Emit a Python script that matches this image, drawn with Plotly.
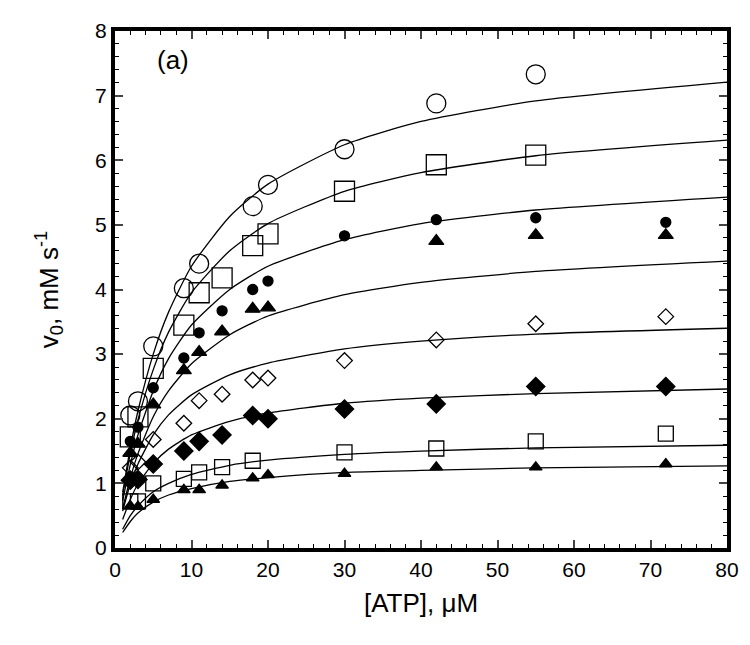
import plotly.graph_objects as go

# ---------------- data ----------------
atp_1 = [2, 3, 5, 9, 11, 18, 20, 30, 42, 55]
v_1 = [2.05, 2.27, 3.12, 4.02, 4.40, 5.29, 5.62, 6.17, 6.88, 7.33]

atp_2 = [2, 3, 5, 9, 11, 14, 18, 20, 30, 42, 55]
v_2 = [1.72, 2.03, 2.78, 3.45, 3.95, 4.18, 4.68, 4.86, 5.52, 5.93, 6.08]

atp_3 = [2, 3, 5, 9, 11, 14, 18, 20, 30, 42, 55, 72]
v_3 = [1.65, 1.87, 2.48, 2.94, 3.33, 3.67, 4.00, 4.13, 4.83, 5.08, 5.11, 5.04]

atp_4 = [2, 3, 5, 9, 11, 14, 18, 20, 42, 55, 72]
v_4 = [1.47, 1.61, 2.22, 2.75, 3.03, 3.35, 3.70, 3.72, 4.75, 4.84, 4.84]

atp_5 = [2, 3, 5, 9, 11, 14, 18, 20, 30, 42, 55, 72]
v_5 = [1.24, 1.33, 1.68, 1.93, 2.28, 2.38, 2.60, 2.63, 2.90, 3.22, 3.47, 3.58]

atp_6 = [2, 3, 5, 9, 11, 14, 18, 20, 30, 42, 55, 72]
v_6 = [1.05, 1.06, 1.30, 1.50, 1.65, 1.75, 2.05, 2.00, 2.15, 2.23, 2.50, 2.50]

atp_7 = [2, 3, 5, 9, 11, 14, 18, 30, 42, 55, 72]
v_7 = [0.72, 0.72, 1.00, 1.07, 1.17, 1.25, 1.35, 1.48, 1.54, 1.65, 1.77]

atp_8 = [2, 3, 5, 9, 11, 14, 18, 20, 30, 42, 55, 72]
v_8 = [0.65, 0.64, 0.75, 0.90, 0.90, 0.97, 1.08, 1.13, 1.15, 1.25, 1.25, 1.30]

# fitted curves
fit_atp = [1, 2, 3, 5, 7, 10, 15, 20, 30, 40, 55, 80]
fit_1 = [0.86, 1.55, 2.12, 3.00, 3.65, 4.36, 5.13, 5.63, 6.24, 6.60, 6.92, 7.21]
fit_2 = [0.81, 1.46, 1.98, 2.76, 3.34, 3.95, 4.60, 5.02, 5.52, 5.81, 6.07, 6.31]
fit_3 = [0.73, 1.29, 1.75, 2.43, 2.93, 3.45, 4.00, 4.36, 4.77, 5.02, 5.23, 5.43]
fit_4 = [0.61, 1.08, 1.46, 2.03, 2.43, 2.85, 3.30, 3.59, 3.92, 4.11, 4.28, 4.44]
fit_5 = [0.57, 0.99, 1.30, 1.75, 2.06, 2.37, 2.68, 2.86, 3.08, 3.20, 3.31, 3.40]
fit_6 = [0.44, 0.75, 0.99, 1.31, 1.53, 1.75, 1.96, 2.09, 2.24, 2.32, 2.39, 2.46]
fit_7 = [0.29, 0.50, 0.65, 0.87, 1.00, 1.14, 1.28, 1.36, 1.45, 1.50, 1.55, 1.59]
fit_8 = [0.24, 0.41, 0.54, 0.71, 0.82, 0.92, 1.03, 1.09, 1.17, 1.20, 1.24, 1.27]

x_ticks = [0, 10, 20, 30, 40, 50, 60, 70, 80]
y_ticks = [0, 1, 2, 3, 4, 5, 6, 7, 8]

fits = [fit_1, fit_2, fit_3, fit_4, fit_5, fit_6, fit_7, fit_8]
series = [
    (atp_1, v_1, "circle-open", 19),
    (atp_2, v_2, "square-open", 20),
    (atp_3, v_3, "circle", 10),
    (atp_4, v_4, "triangle-up", 13),
    (atp_5, v_5, "diamond-open", 12),
    (atp_6, v_6, "diamond", 14),
    (atp_7, v_7, "square-open", 15),
    (atp_8, v_8, "triangle-up", 11),
]

fig = go.Figure()
for f in fits:
    fig.add_trace(go.Scatter(x=fit_atp, y=f, mode="lines",
                             line=dict(color="black", width=1.3, shape="spline", smoothing=0.6),
                             showlegend=False, hoverinfo="skip"))
for xs, ys, sym, sz in series:
    fig.add_trace(go.Scatter(x=xs, y=ys, mode="markers",
                             marker=dict(symbol=sym, size=sz, color="black",
                                         line=dict(color="black", width=1.3)),
                             showlegend=False))

font_family = "Liberation Sans, Arial, sans-serif"
fig.update_layout(
    width=742, height=637,
    margin=dict(l=107, r=21, t=11, b=97),
    paper_bgcolor="white", plot_bgcolor="white",
    font=dict(family=font_family, color="black", size=21),
    xaxis=dict(range=[0, 80], tickvals=x_ticks, ticks="inside", ticklen=8, tickwidth=1.5,
               showline=True, linewidth=4, linecolor="black", mirror="allticks",
               showgrid=False, zeroline=False,
               minor=dict(dtick=2, ticks="inside", ticklen=4, tickwidth=1, tickcolor="black"),
               tickfont=dict(size=21, family=font_family), ticklabelstandoff=0,
               title=dict(text="[ATP], μM", font=dict(size=26, family=font_family), standoff=15)),
    yaxis=dict(range=[0, 8], tickvals=y_ticks, ticks="inside", ticklen=8, tickwidth=1.5,
               showline=True, linewidth=4, linecolor="black", mirror="allticks",
               showgrid=False, zeroline=False,
               minor=dict(dtick=0.2, ticks="inside", ticklen=4, tickwidth=1, tickcolor="black"),
               tickfont=dict(size=21, family=font_family), ticklabelstandoff=0,
               title=dict(text="v<sub>0</sub>, mM s<sup>-1</sup>", font=dict(size=26, family=font_family),
                          standoff=30)),
    annotations=[dict(x=7.6, y=7.55, xref="x", yref="y", text="(a)", showarrow=False,
                      font=dict(size=26, family=font_family))],
)

fig.write_html("out.html")
